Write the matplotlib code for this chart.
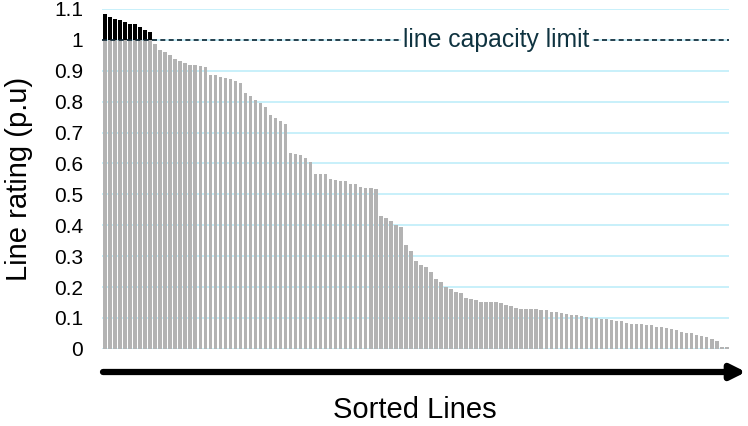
import numpy as np
import matplotlib.pyplot as plt

# Line ratings, sorted (p.u)
ratings = [
    1.083, 1.075, 1.068, 1.064, 1.058, 1.052, 1.051, 1.042, 1.032, 1.025,
    0.986, 0.968, 0.960, 0.951, 0.937, 0.932, 0.925, 0.919, 0.918, 0.917,
    0.911, 0.886, 0.885, 0.879, 0.875, 0.874, 0.866, 0.860, 0.827, 0.817,
    0.806, 0.796, 0.782, 0.756, 0.747, 0.738, 0.727, 0.633, 0.630, 0.627,
    0.617, 0.606, 0.565, 0.565, 0.565, 0.549, 0.546, 0.544, 0.543, 0.534,
    0.533, 0.523, 0.521, 0.521, 0.516, 0.430, 0.425, 0.414, 0.401, 0.394,
    0.336, 0.317, 0.285, 0.272, 0.264, 0.249, 0.226, 0.216, 0.200, 0.193,
    0.185, 0.182, 0.166, 0.162, 0.159, 0.152, 0.152, 0.151, 0.151, 0.150,
    0.142, 0.140, 0.133, 0.130, 0.130, 0.130, 0.129, 0.127, 0.127, 0.120,
    0.119, 0.117, 0.114, 0.111, 0.109, 0.105, 0.104, 0.101, 0.100, 0.097,
    0.096, 0.095, 0.091, 0.089, 0.084, 0.081, 0.081, 0.081, 0.078, 0.076,
    0.072, 0.071, 0.066, 0.065, 0.061, 0.056, 0.053, 0.053, 0.046, 0.042,
    0.037, 0.031, 0.027, 0.006, 0.006,
]
capacity_limit = 1.0
y_ticks = [0, 0.1, 0.2, 0.3, 0.4, 0.5, 0.6, 0.7, 0.8, 0.9, 1.0, 1.1]
y_tick_labels = ['0', '0.1', '0.2', '0.3', '0.4', '0.5', '0.6', '0.7', '0.8', '0.9', '1', '1.1']

plt.rcParams['font.family'] = ['Liberation Sans', 'DejaVu Sans']

vals = np.array(ratings)
x = np.arange(len(vals))
below = np.minimum(vals, capacity_limit)
over = np.clip(vals - capacity_limit, 0, None)

fig = plt.figure(figsize=(7.48, 4.26), dpi=100)
ax = fig.add_axes([0.137, 0.181, 0.838, 0.798])

# bars: grey up to the limit, black above it
ax.bar(x, below, width=0.7, color='#b3b3b3', zorder=2)
ax.bar(x[over > 0], over[over > 0], bottom=capacity_limit, width=0.7, color='black', zorder=2)

# capacity limit line + label
ax.axhline(capacity_limit, color='#0b2230', lw=1.2, dashes=(3, 2), zorder=3)
ax.text(78.1, capacity_limit, 'line capacity limit', fontsize=17.8, color='#0f3340',
        ha='center', va='center', zorder=4,
        bbox=dict(facecolor='white', edgecolor='none', pad=1.5))

ax.set_xlim(-0.5, len(vals) - 0.5)
ax.set_ylim(0, 1.1)
ax.set_yticks(y_ticks)
ax.set_yticklabels(y_tick_labels, fontsize=15)
ax.set_xticks([])
ax.tick_params(axis='y', length=0, pad=14)
ax.grid(axis='y', color='#bfeef9', lw=1.2, zorder=0)
ax.set_axisbelow(True)
for s in ax.spines.values():
    s.set_visible(False)

ax.set_ylabel('Line rating (p.u)', fontsize=21, labelpad=15)

# x axis drawn as a thick arrow
ax.annotate('', xy=(746 / 748, 1 - 372 / 426), xytext=(103 / 748, 1 - 372 / 426),
            xycoords='figure fraction', textcoords='figure fraction',
            arrowprops=dict(arrowstyle='-|>', lw=4.5, color='black', mutation_scale=22,
                            shrinkA=0, shrinkB=0))
fig.text(415 / 748, 1 - 410 / 426, 'Sorted Lines', fontsize=21, ha='center', va='center')

fig.savefig('out.png', dpi=100)
